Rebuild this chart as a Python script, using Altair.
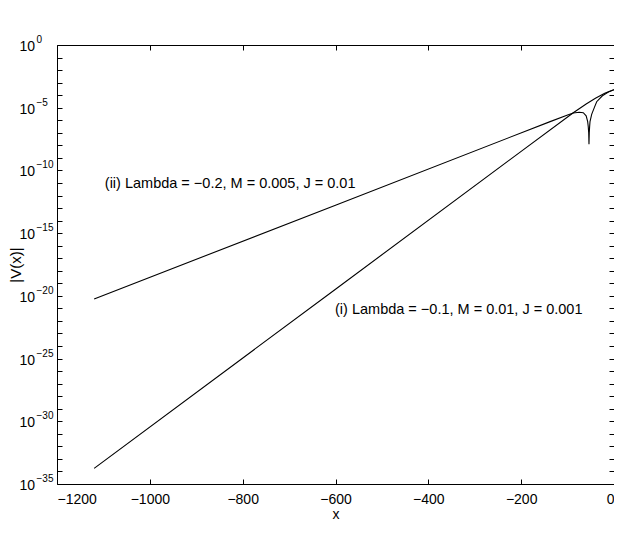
import altair as alt
import pandas as pd

FONT = "Liberation Sans"

# Series (i): Lambda = -0.1, M = 0.01, J = 0.001   (x, log10|V|)
x_i = [-1120, -600, -200, -87.7, -60, -40, -20, -5, 0]
logv_i = [-33.75, -19.47, -8.48, -5.40, -4.70, -4.25, -3.85, -3.62, -3.56]

# Series (ii): Lambda = -0.2, M = 0.005, J = 0.01
x_ii = [-1120, -600, -137.6, -100, -87.7, -75, -66.2, -60, -56.7, -55.5, -54.5,
        -53.9, -53.3, -52.5, -51.7, -48.1, -42, -37.3, -25, -12, 0]
logv_ii = [-20.25, -12.77, -6.11, -5.58, -5.42, -5.36, -5.40, -5.65, -6.11, -6.5, -7.0,
           -7.92, -7.0, -6.5, -6.11, -5.53, -4.95, -4.52, -4.05, -3.75, -3.56]

# Annotations
ann_x = [-1097, -601]
ann_logv = [-11.08, -21.1]
ann_text = ["(ii) Lambda = \u22120.2, M = 0.005, J = 0.01",
            "(i) Lambda = \u22120.1, M = 0.01, J = 0.001"]

# Axis ticks
x_ticks = [-1200, -1000, -800, -600, -400, -200, 0]
y_decades = list(range(0, -36, -1))
y_label_decades = [0, -5, -10, -15, -20, -25, -30, -35]

df_i = pd.DataFrame({"x": x_i, "v": [10.0 ** e for e in logv_i]})
df_ii = pd.DataFrame({"x": x_ii, "v": [10.0 ** e for e in logv_ii]})
df_t = pd.DataFrame({"x": ann_x, "v": [10.0 ** e for e in ann_logv], "label": ann_text})

e = "round(log(datum.value)/LN10)"
base_expr = f"{e} % 5 == 0 ? '10' : ''"
exp_expr = f"{e} % 5 == 0 ? replace('' + {e}, '-', '\u2212') : ''"

xs = alt.Scale(domain=[-1200, 0], nice=False, zero=False)
ys = alt.Scale(type="log", domain=[1e-35, 1], nice=False)
y_vals = [10.0 ** k for k in y_decades]
y_lab_vals = [10.0 ** k for k in y_label_decades]

common = dict(domain=False, grid=False, tickSize=5, offset=-5, tickColor="black",
              tickWidth=1, labelFont=FONT, labelFontSize=14, labelColor="black",
              titleFont=FONT, titleFontSize=14, titleColor="black", titleFontWeight="normal")

ax_bottom = alt.Axis(orient="bottom", values=x_ticks, title="x", labelPadding=8, format="d",
                     titleBaseline="alphabetic", titleY=39, **common)
ax_left = alt.Axis(orient="left", values=y_vals, title="|V(x)|", labelExpr=base_expr,
                   labelAlign="left", labelBaseline="middle", labelPadding=38, labelOffset=1.5,
                   titleAngle=270, titleBaseline="alphabetic", titleX=-42, titleY=219.5,
                   **{**common, "titleFontSize": 15})
ax_top = alt.Axis(orient="top", values=x_ticks, title=None, labels=False, **common)
ax_right = alt.Axis(orient="right", values=y_vals, title=None, labels=False, **common)
ax_exp = alt.Axis(orient="left", values=y_lab_vals, title=None, labelExpr=exp_expr,
                  domain=False, grid=False, ticks=False, tickSize=0, offset=-5,
                  labelFont=FONT, labelFontSize=10, labelColor="black",
                  labelAlign="left", labelBaseline="alphabetic", labelPadding=26,
                  labelOffset=-2.5)

line_i = alt.Chart(df_i).mark_line(color="black", strokeWidth=1.1).encode(
    x=alt.X("x:Q", scale=xs, axis=ax_bottom),
    y=alt.Y("v:Q", scale=ys, axis=ax_left),
)
line_ii = alt.Chart(df_ii).mark_line(color="black", strokeWidth=1.1).encode(
    x=alt.X("x:Q", scale=xs, axis=ax_top),
    y=alt.Y("v:Q", scale=ys, axis=ax_right),
)
text = alt.Chart(df_t).mark_text(align="left", baseline="middle", font=FONT,
                                 fontSize=14.5, color="black").encode(
    x=alt.X("x:Q", scale=xs, axis=None),
    y=alt.Y("v:Q", scale=ys, axis=ax_exp),
    text="label:N",
)

chart = (
    alt.layer(line_i, line_ii, text)
    .resolve_axis(x="independent", y="independent")
    .properties(
        width=557,
        height=439,
        autosize=alt.AutoSizeParams(type="none"),
        padding={"left": 49, "top": 37, "right": 0, "bottom": 53},
        background="white",
    )
    .configure_view(stroke="black", strokeWidth=1)
)

chart.save("out.html", embed_options={"renderer": "svg", "actions": False})
